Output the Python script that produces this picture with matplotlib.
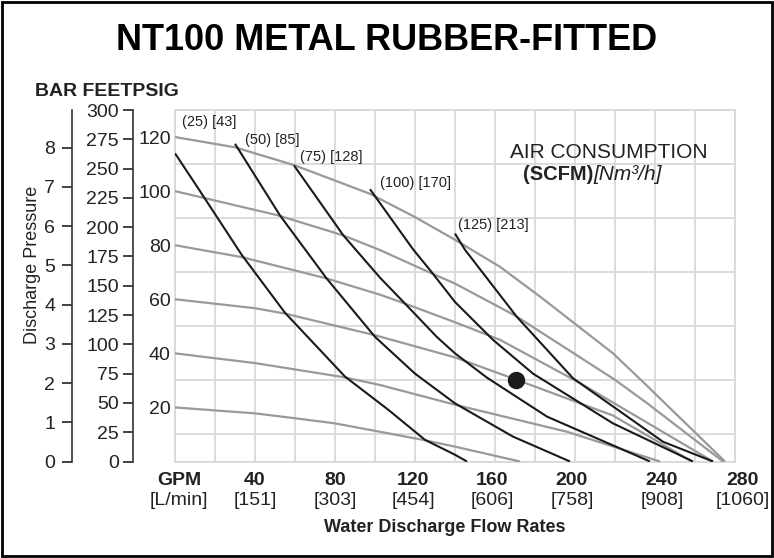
import numpy as np
import matplotlib.pyplot as plt
from matplotlib.patches import Rectangle
from matplotlib.transforms import offset_copy

plt.rcParams['font.family'] = ['Liberation Sans', 'DejaVu Sans']

# air inlet pressure curves (psig) : flow GPM, discharge psig
p20_gpm = [0, 40, 60, 80, 102.5, 124, 140, 172.5]
p20_psi = [20, 17.8, 16, 14.1, 11, 8, 5.5, 0]
p40_gpm = [0, 40, 84.2, 102.5, 140, 196, 242.5]
p40_psi = [40, 36.4, 31.2, 28.3, 21, 11, 0]
p60_gpm = [0, 40, 55, 100, 140, 170.5, 219, 258.5]
p60_psi = [60, 56.7, 54.7, 46.7, 38.5, 30.3, 17, 0]
p80_gpm = [0, 33.3, 75.8, 102.5, 115, 140, 162.5, 202.5, 269]
p80_psi = [80, 75.6, 67.7, 61.7, 58.4, 51.5, 45, 29, 0]
p100_gpm = [0, 51.7, 84.2, 102.5, 126.7, 140, 170, 220, 236, 274]
p100_psi = [100, 91, 83.6, 78.2, 70.1, 65.8, 54, 30.2, 21.6, 0]
p120_gpm = [0, 30, 60, 97.5, 120, 140, 162.5, 182.5, 219, 232.5, 275]
p120_psi = [120, 116.2, 109.5, 99, 90.4, 82, 72, 61, 40, 30.5, 0]

# air consumption curves (SCFM)
c25_gpm = [0, 12.5, 33.3, 55, 85, 106.7, 125, 140, 146]
c25_psi = [114, 100, 76.5, 55, 31.4, 19.1, 8, 2.5, 0]
c50_gpm = [30, 52.5, 75.8, 100, 120, 140, 169, 197.5]
c50_psi = [117.5, 91, 67.7, 46.1, 32.5, 21.5, 9.2, 0]
c75_gpm = [59.5, 84.2, 102.5, 115, 131, 140, 156, 186, 237.5]
c75_psi = [109.5, 83.6, 68, 58.4, 46, 40, 31, 16.6, 0]
c100_gpm = [97.5, 119, 127.5, 140, 159, 179, 219, 259]
c100_psi = [100.7, 78.5, 70.8, 59, 45, 32.5, 14.1, 0]
c125_gpm = [140, 145, 170.8, 199, 244, 269]
c125_psi = [84.3, 78.3, 53.6, 30.8, 7.3, 0]

air_labels = ['(25) [43]', '(50) [85]', '(75) [128]', '(100) [170]', '(125) [213]']
air_label_gpm = [3.3, 35, 62.5, 102.5, 141.5]
air_label_psi = [125.4, 119, 112.8, 103.1, 87.6]

point_gpm = [170.5]
point_psi = [30]

gpm_ticks = [0, 40, 80, 120, 160, 200, 240, 280]
gpm_labels = ['GPM', '40', '80', '120', '160', '200', '240', '280']
lpm_labels = ['[L/min]', '[151]', '[303]', '[454]', '[606]', '[758]', '[908]', '[1060]']
psi_ticks = [20, 40, 60, 80, 100, 120]
feet_ticks = list(range(0, 301, 25))
bar_ticks = list(range(0, 9))

W, H = 774, 558
fig = plt.figure(figsize=(W / 100, H / 100), dpi=100)
ax = fig.add_axes([175 / W, (H - 461.5) / H, 560 / W, (461.5 - 110) / H])
ax.set_xlim(0, 280)
ax.set_ylim(0, 130)

grid_c = '#d9d9d9'
txt_c = '#222222'
ax.set_xticks(np.arange(0, 281, 20), minor=True)
ax.set_yticks(np.arange(0, 131, 10), minor=True)
ax.grid(True, which='minor', color=grid_c, lw=1.3)
ax.set_xticks([])
ax.set_yticks(psi_ticks)
ax.tick_params(axis='y', length=0, pad=3, labelsize=14, colors=txt_c)
ax.tick_params(which='minor', length=0)
for s in ax.spines.values():
    s.set_color(grid_c)
    s.set_linewidth(1.3)

gray = '#999999'
for xs, ys in [(p20_gpm, p20_psi), (p40_gpm, p40_psi), (p60_gpm, p60_psi),
               (p80_gpm, p80_psi), (p100_gpm, p100_psi), (p120_gpm, p120_psi)]:
    ax.plot(xs, ys, color=gray, lw=1.6, solid_capstyle='butt', zorder=3)

for xs, ys in [(c25_gpm, c25_psi), (c50_gpm, c50_psi), (c75_gpm, c75_psi),
               (c100_gpm, c100_psi), (c125_gpm, c125_psi)]:
    ax.plot(xs, ys, color='#1a1a1a', lw=1.5, solid_capstyle='butt', zorder=4)

for lab, x, y in zip(air_labels, air_label_gpm, air_label_psi):
    ax.text(x, y, lab, fontsize=10.5, ha='left', va='center', color=txt_c, zorder=5)

ax.plot(point_gpm, point_psi, 'o', color='#1a1a1a', ms=11.5, zorder=6)

ax.text(217, 114.3, 'AIR CONSUMPTION', fontsize=15, ha='center', va='center',
        color=txt_c)
t1 = ax.text(174, 106.1, '(SCFM)', fontsize=14.5, fontweight='bold', ha='left',
             va='center', color=txt_c)
ax.annotate('[Nm³/h]', xy=(1, 0.5), xycoords=t1, fontsize=15, style='italic',
            ha='left', va='center', color=txt_c)

# x tick labels: bold GPM on top, L/min below (outer ones sit a bit right)
label_shift = [4, 0, 0, -2, -3, -3, 7, 8]
for x, g, l, dx in zip(gpm_ticks, gpm_labels, lpm_labels, label_shift):
    tr = offset_copy(ax.get_xaxis_transform(), fig=fig, x=dx * 0.72, units='points')
    ax.text(x, -0.055, g, transform=tr, fontsize=14,
            fontweight='bold', ha='center', va='center', color=txt_c)
    ax.text(x, -0.11, l, transform=tr, fontsize=14,
            ha='center', va='center', color=txt_c)
fig.text(445 / W, 1 - 527 / H, 'Water Discharge Flow Rates', fontsize=13,
         fontweight='bold', ha='center', va='center', color=txt_c)

# feet and bar axes
psi_to_ft = 2.3077
psi_to_bar = 0.0689476
feet = ax.secondary_yaxis((133 - 175) / 560,
                          functions=(lambda p: p * psi_to_ft, lambda f: f / psi_to_ft))
feet.set_yticks(feet_ticks)
bar = ax.secondary_yaxis((72 - 175) / 560,
                         functions=(lambda p: p * psi_to_bar, lambda b: b / psi_to_bar))
bar.set_yticks(bar_ticks)
for sa in (feet, bar):
    sa.spines['left'].set_color('#333333')
    sa.spines['left'].set_linewidth(1.2)
    sa.tick_params(length=7, width=1.2, colors=txt_c, labelsize=14, pad=3)
bar.tick_params(pad=5)

fig.text(33 / W, 1 - 265 / H, 'Discharge Pressure', fontsize=13, rotation=90,
         ha='center', va='center', color=txt_c)
fig.text(35 / W, 1 - 92 / H, 'BAR FEETPSIG', fontsize=14, fontweight='bold',
         ha='left', va='center', color=txt_c)

fig.text(387 / W, 1 - 40 / H, 'NT100 METAL RUBBER-FITTED', fontsize=26,
         fontweight='bold', ha='center', va='center', color='black')

fig.patches.append(Rectangle((0.003, 0.004), 0.994, 0.992, transform=fig.transFigure,
                             fill=False, edgecolor='black', lw=2))

fig.savefig('out.png', dpi=100)
